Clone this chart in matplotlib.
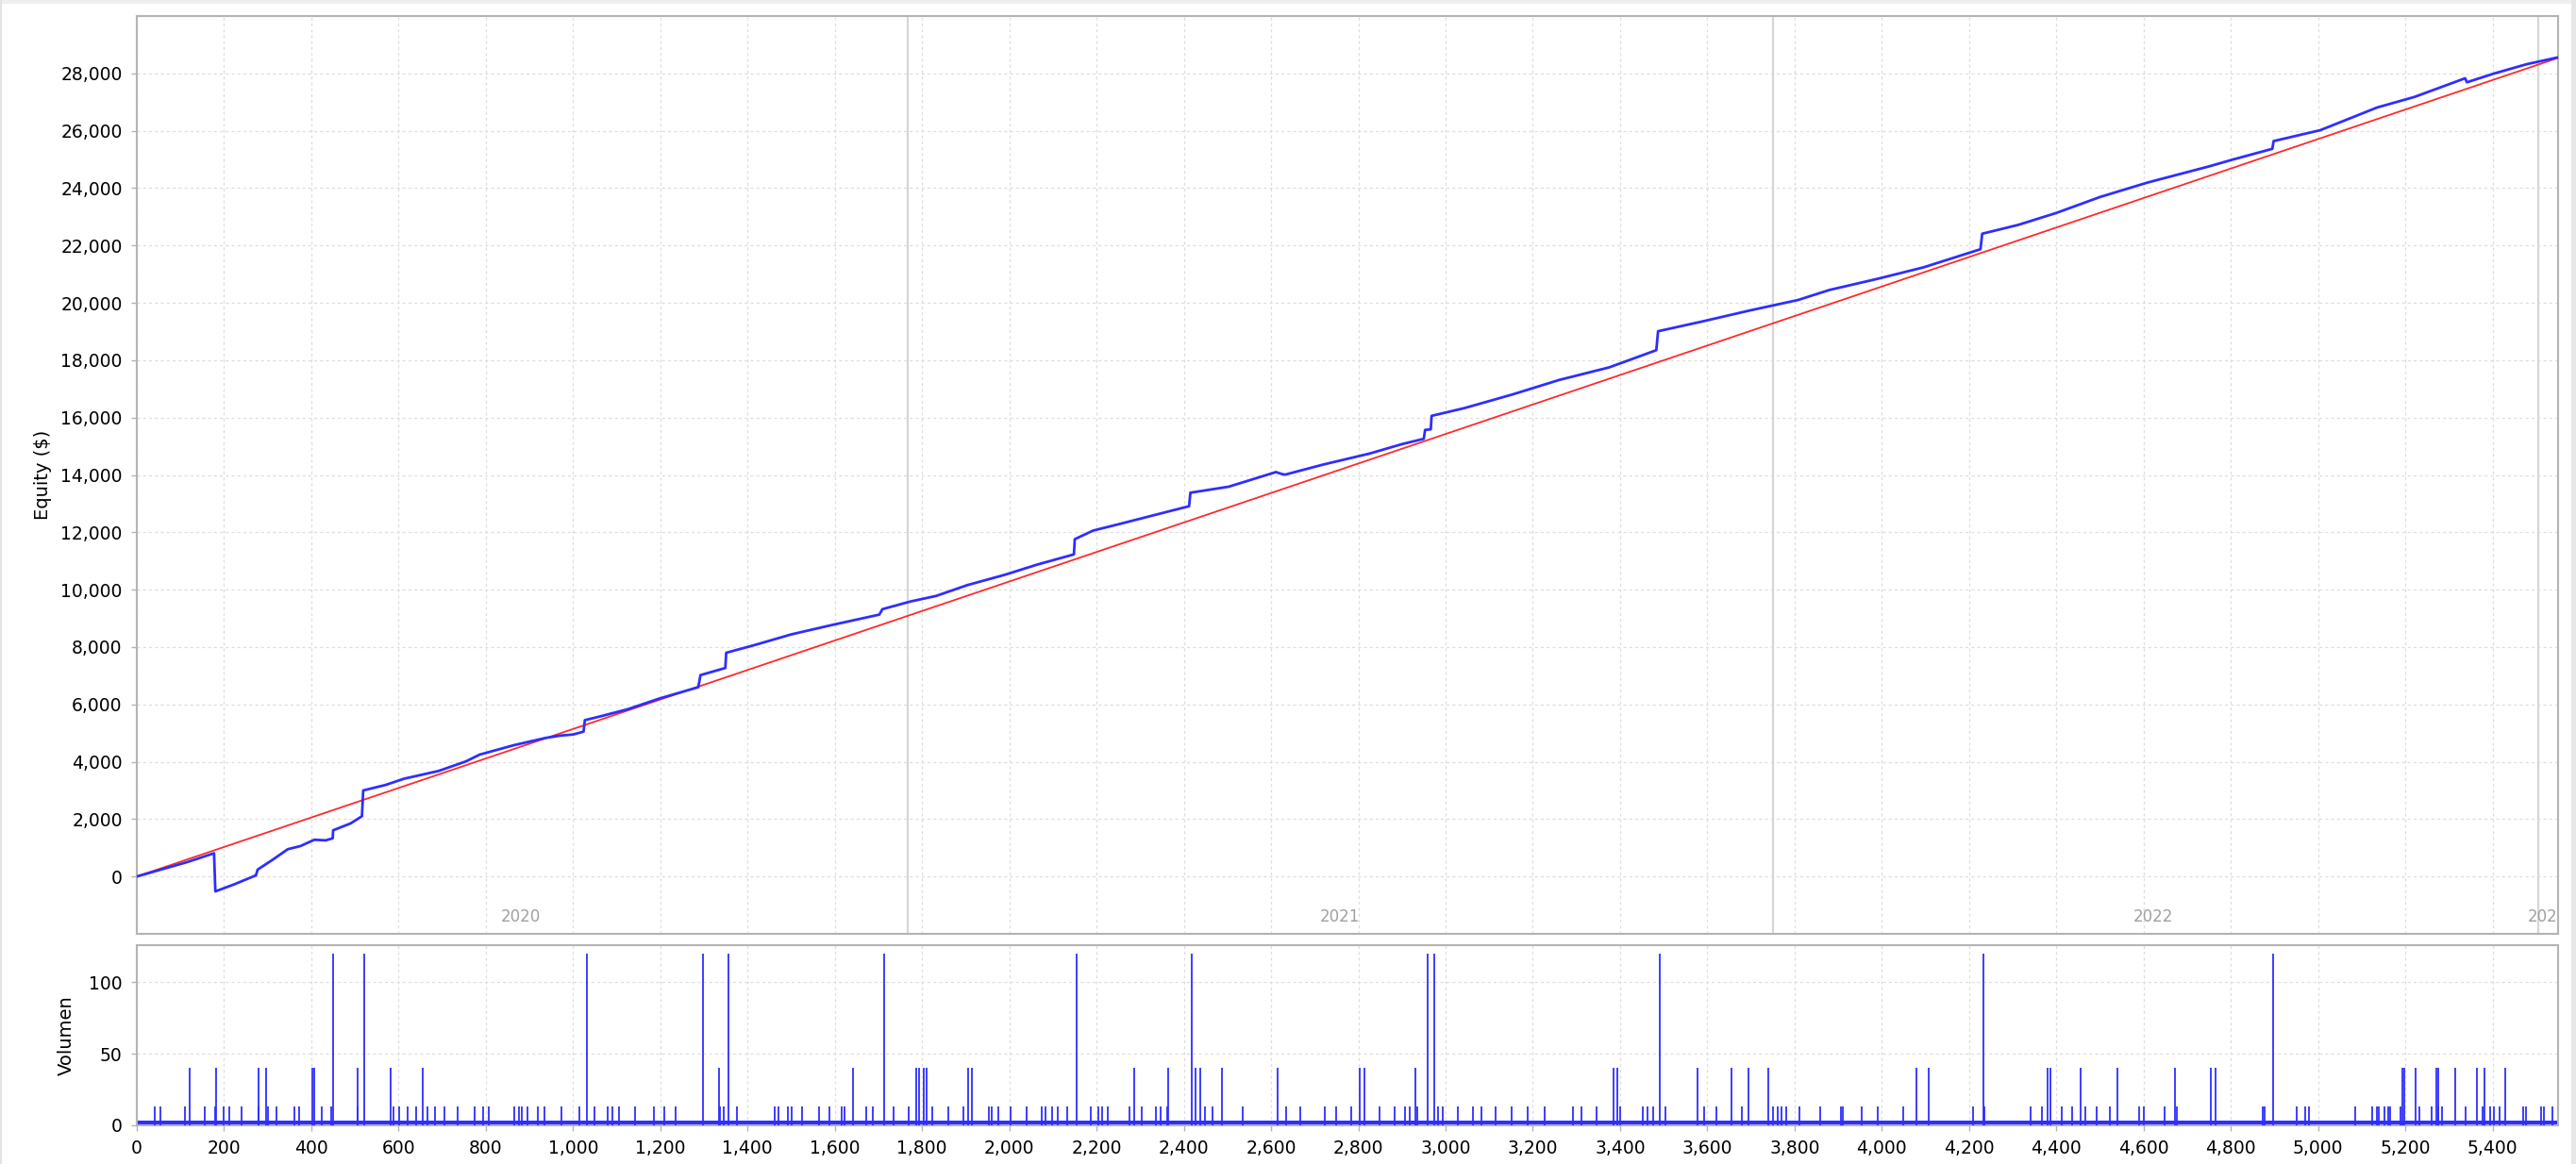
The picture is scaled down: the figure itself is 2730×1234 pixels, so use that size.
import matplotlib
matplotlib.use("Agg")
import matplotlib.pyplot as plt
from matplotlib.ticker import FuncFormatter, MultipleLocator
from matplotlib.patches import Rectangle

# Curva de equity (trade, $)
equity_trade = [0, 115, 177, 180, 224, 273, 277, 310, 346, 375, 407, 433, 449, 450, 490, 516,
                519, 570, 613, 692, 754, 786, 865, 937, 970, 1000, 1024, 1027, 1067, 1125,
                1197, 1287, 1292, 1349, 1351, 1414, 1500, 1594, 1702, 1709, 1774, 1832, 1904,
                1990, 2063, 2148, 2150, 2192, 2250, 2412, 2415, 2503, 2611, 2625, 2632, 2719,
                2827, 2899, 2950, 2953, 2966, 2968, 3043, 3152, 3260, 3375, 3483, 3487, 3591,
                3699, 3808, 3880, 3988, 4096, 4226, 4230, 4313, 4399, 4500, 4608, 4753, 4803,
                4895, 4898, 5005, 5135, 5221, 5337, 5341, 5402, 5478, 5550]
equity_value = [0, 500, 810, -520, -270, 40, 240, 570, 950, 1060, 1280, 1260, 1330, 1610, 1850, 2100,
                3000, 3190, 3410, 3680, 4010, 4250, 4580, 4830, 4910, 4950, 5050, 5450, 5600, 5830,
                6200, 6600, 7020, 7270, 7800, 8060, 8440, 8770, 9130, 9320, 9590, 9780, 10160,
                10520, 10870, 11230, 11760, 12060, 12280, 12910, 13380, 13590, 14100, 14030, 14010, 14360,
                14750, 15070, 15260, 15570, 15590, 16060, 16330, 16800, 17310, 17750, 18350, 19010, 19360,
                19740, 20100, 20450, 20830, 21240, 21870, 22410, 22720, 23130, 23690, 24190, 24770, 24990,
                25370, 25640, 26020, 26810, 27180, 27830, 27690, 27990, 28320, 28560]

# Linea de tendencia (roja)
trend_trade = [0, 5550]
trend_value = [0, 28540]

# Separadores de anio
year_bounds = [1768, 3751, 5504]
year_labels = ["2020", "2021", "2022", "2023"]
year_label_pos = [880, 2757, 4621, 5527]

# Volumen por trade
vol_big_trade = [450, 521, 1031, 1298, 1356, 1714, 2154, 2419, 2959, 2973, 3491, 4232, 4896]
vol_big = 120
vol_mid_trade = [121, 181, 278, 297, 402, 406, 506, 581, 655, 1334, 1641, 1786, 1793, 1803, 1810,
                 1906, 1915, 2286, 2365, 2426, 2438, 2487, 2616, 2804, 2813, 2931, 3386, 3393,
                 3578, 3655, 3695, 3740, 4080, 4108, 4380, 4387, 4455, 4539, 4672, 4755, 4764,
                 5193, 5197, 5223, 5271, 5275, 5314, 5364, 5382, 5428]
vol_mid = 40
vol_small_trade = [42, 55, 111, 156, 179, 200, 212, 241, 278, 301, 320, 361, 372, 423, 446, 506,
                   589, 601, 620, 641, 667, 684, 705, 736, 775, 793, 806, 866, 875, 883, 895, 920,
                   935, 974, 1015, 1048, 1080, 1090, 1106, 1141, 1186, 1209, 1235, 1336, 1345, 1376,
                   1463, 1470, 1493, 1500, 1524, 1563, 1587, 1615, 1622, 1671, 1688, 1735, 1770,
                   1824, 1861, 1894, 1953, 1960, 1974, 2002, 2040, 2075, 2082, 2098, 2110, 2133,
                   2187, 2204, 2213, 2225, 2276, 2304, 2337, 2347, 2361, 2448, 2466, 2534, 2635,
                   2666, 2724, 2748, 2783, 2849, 2884, 2907, 2917, 2935, 2982, 2994, 3029, 3062,
                   3083, 3114, 3151, 3189, 3228, 3292, 3311, 3346, 3400, 3451, 3463, 3475, 3503,
                   3592, 3620, 3679, 3751, 3761, 3770, 3780, 3810, 3859, 3906, 3911, 3953, 3991,
                   4049, 4209, 4234, 4342, 4366, 4413, 4436, 4467, 4492, 4523, 4589, 4600, 4647,
                   4677, 4872, 4877, 4951, 4971, 4980, 5084, 5124, 5135, 5140, 5153, 5160, 5166,
                   5189, 5232, 5261, 5276, 5283, 5339, 5376, 5394, 5402, 5416, 5469, 5476, 5510,
                   5517, 5537]
vol_small = 13
vol_base = 3
n_trades = 5550

blue = "#2e2eff"
grid_col = "#dedede"
spine_col = "#b4b4b4"

fig = plt.figure(figsize=(27.3, 12.34), dpi=100)
fig.patch.set_facecolor("white")
# bordes de la ventana
fig.patches.append(Rectangle((0, 1 - 4 / 1234), 1, 4 / 1234, transform=fig.transFigure,
                             facecolor="#eeeeee", edgecolor="none"))
fig.patches.append(Rectangle((0, 0), 2 / 2730, 1, transform=fig.transFigure,
                             facecolor="#e2e2e2", edgecolor="none"))
fig.patches.append(Rectangle((1 - 5 / 2730, 0), 5 / 2730, 1, transform=fig.transFigure,
                             facecolor="#e6e6e6", edgecolor="none"))

ax = fig.add_axes([145 / 2730, 1 - 990 / 1234, 2566 / 2730, 973 / 1234])
axv = fig.add_axes([145 / 2730, 1 - 1193 / 1234, 2566 / 2730, 191 / 1234], sharex=ax)

comma = FuncFormatter(lambda v, p: "{:,.0f}".format(v))

for a in (ax, axv):
    for s in a.spines.values():
        s.set_color(spine_col)
        s.set_linewidth(1.5)
    a.grid(True, color=grid_col, linestyle=(0, (2.5, 2.5)), linewidth=0.9)
    a.set_axisbelow(True)
    a.tick_params(axis="both", colors=spine_col, labelcolor="black", labelsize=13.5,
                  length=4, width=1, pad=7)

# Panel de equity
for yb in year_bounds:
    ax.axvline(yb, color="#d6d6d6", linewidth=1.6, zorder=1)
ax.plot(trend_trade, trend_value, color="#ff2a2a", linewidth=1.3, zorder=3)
ax.plot(equity_trade, equity_value, color=blue, linewidth=2.0, zorder=4)
for lab, xp in zip(year_labels, year_label_pos):
    ax.text(xp, -1400, lab, color="#a0a0a0", fontsize=12, ha="center", va="center", clip_on=True)

ax.set_xlim(0, n_trades)
ax.set_ylim(-2000, 30000)
ax.set_yticks(range(0, 28001, 2000))
ax.yaxis.set_major_formatter(comma)
ax.xaxis.set_major_locator(MultipleLocator(200))
ax.tick_params(axis="x", length=0, labelbottom=False)
ax.set_ylabel("Equity ($)", fontsize=14)
ax.yaxis.set_label_coords(-0.035, 0.5)

# Panel de volumen
axv.fill_between([0, n_trades], 0, vol_base, color=blue, linewidth=0, zorder=2)
axv.vlines(vol_small_trade, 0, vol_small, color=blue, linewidth=1.3, zorder=3)
axv.vlines(vol_mid_trade, 0, vol_mid, color=blue, linewidth=1.3, zorder=3)
axv.vlines(vol_big_trade, 0, vol_big, color=blue, linewidth=1.3, zorder=3)
axv.set_ylim(0, 126)
axv.set_yticks([0, 50, 100])
axv.xaxis.set_major_locator(MultipleLocator(200))
axv.xaxis.set_major_formatter(comma)
axv.set_ylabel("Volumen", fontsize=14)
axv.yaxis.set_label_coords(-0.0255, 0.5)

fig.savefig("out.png", dpi=100, facecolor="white")
